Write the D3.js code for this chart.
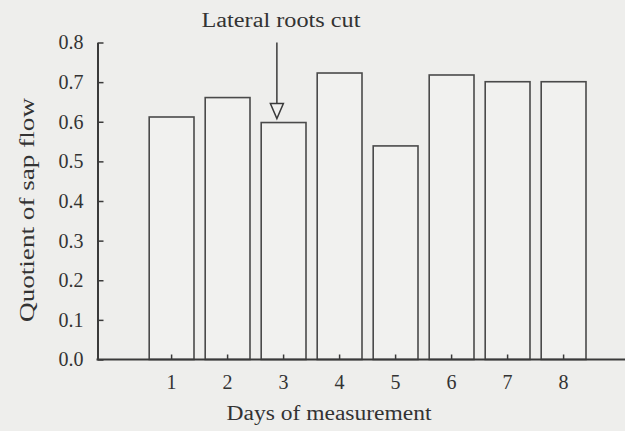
<!DOCTYPE html>
<html>
<head>
<meta charset="utf-8">
<script src="https://cdn.jsdelivr.net/npm/d3@7"></script>
<style>
  body { margin: 0; background: #eeeeec; }
  svg { display: block; }
  text { font-family: "Liberation Serif", "Times New Roman", serif; fill: #333; }
</style>
</head>
<body>
<div id="chart"></div>
<script>
// chart data
var days = ["1", "2", "3", "4", "5", "6", "7", "8"];
var quotient = [0.612, 0.661, 0.598, 0.723, 0.539, 0.718, 0.701, 0.701];
var yTicks = [0, 0.1, 0.2, 0.3, 0.4, 0.5, 0.6, 0.7, 0.8];
var cutDay = "3";

var svgWidth = 625;
var svgHeight = 431;

var margin = { top: 42.5, left: 97.5 };
var plotBottom = 359.5;

var svg = d3.select("#chart")
  .append("svg")
  .attr("width", svgWidth)
  .attr("height", svgHeight);

svg.append("rect")
  .attr("width", svgWidth)
  .attr("height", svgHeight)
  .attr("fill", "#eeeeec");

// scales
var x = d3.scaleBand()
  .domain(days)
  .range([138, 597.2])
  .paddingInner(0.2)
  .paddingOuter(0.2);

var y = d3.scaleLinear()
  .domain([0, 0.8])
  .range([plotBottom, margin.top]);

// bars
svg.selectAll(".bar")
  .data(days)
  .enter()
  .append("rect")
  .attr("class", "bar")
  .attr("x", d => x(d))
  .attr("y", (d, i) => y(quotient[i]))
  .attr("width", x.bandwidth())
  .attr("height", (d, i) => y(0) - y(quotient[i]))
  .attr("fill", "#f1f1ef")
  .attr("stroke", "#4a4a4a")
  .attr("stroke-width", 1.6);

// y axis, ticks pointing inward
var yAxis = svg.append("g")
  .attr("transform", `translate(${margin.left},0)`)
  .call(d3.axisLeft(y)
    .tickValues(yTicks)
    .tickFormat(d3.format(".1f"))
    .tickSize(-6)
    .tickSizeOuter(0)
    .tickPadding(14));
yAxis.select(".domain").attr("stroke", "#3a3a3a").attr("stroke-width", 2);
yAxis.selectAll(".tick line").attr("stroke", "#3a3a3a").attr("stroke-width", 1.5);
yAxis.selectAll("text")
  .attr("font-size", 20)
  .attr("fill", "#333")
  .style("font-family", "Liberation Serif, serif");

// x axis
var xAxis = svg.append("g")
  .attr("transform", `translate(0,${plotBottom})`)
  .call(d3.axisBottom(x)
    .tickSize(-5)
    .tickSizeOuter(0)
    .tickPadding(15));
xAxis.select(".domain").remove();
xAxis.selectAll(".tick line").attr("stroke", "#3a3a3a").attr("stroke-width", 1.5);
xAxis.selectAll("text")
  .attr("font-size", 20)
  .attr("fill", "#333")
  .style("font-family", "Liberation Serif, serif");
xAxis.append("line")
  .attr("x1", margin.left - 1)
  .attr("x2", svgWidth)
  .attr("y1", 0)
  .attr("y2", 0)
  .attr("stroke", "#3a3a3a")
  .attr("stroke-width", 2.2);

// axis titles
svg.append("text")
  .attr("x", 329)
  .attr("y", 420)
  .attr("text-anchor", "middle")
  .attr("font-size", 20)
  .attr("textLength", 205)
  .attr("lengthAdjust", "spacingAndGlyphs")
  .text("Days of measurement");

svg.append("text")
  .attr("transform", "translate(34,210) rotate(-90)")
  .attr("text-anchor", "middle")
  .attr("font-size", 20)
  .attr("textLength", 224)
  .attr("lengthAdjust", "spacingAndGlyphs")
  .text("Quotient of sap flow");

// annotation arrow for the day the lateral roots were cut
var cutIndex = days.indexOf(cutDay);
var arrowX = x(cutDay) + x.bandwidth() * 0.35;
var arrowTip = y(quotient[cutIndex]) - 4;
var headLen = 15;

svg.append("line")
  .attr("x1", arrowX)
  .attr("x2", arrowX)
  .attr("y1", y(0.8))
  .attr("y2", arrowTip - headLen)
  .attr("stroke", "#3a3a3a")
  .attr("stroke-width", 1.5);

svg.append("path")
  .attr("d", `M${arrowX - 6.5},${arrowTip - headLen} L${arrowX + 6.5},${arrowTip - headLen} L${arrowX},${arrowTip} Z`)
  .attr("fill", "#f1f1ef")
  .attr("stroke", "#3a3a3a")
  .attr("stroke-width", 1.5);

svg.append("text")
  .attr("x", 281)
  .attr("y", 27)
  .attr("text-anchor", "middle")
  .attr("font-size", 20)
  .attr("textLength", 159)
  .attr("lengthAdjust", "spacingAndGlyphs")
  .text("Lateral roots cut");
</script>
</body>
</html>
